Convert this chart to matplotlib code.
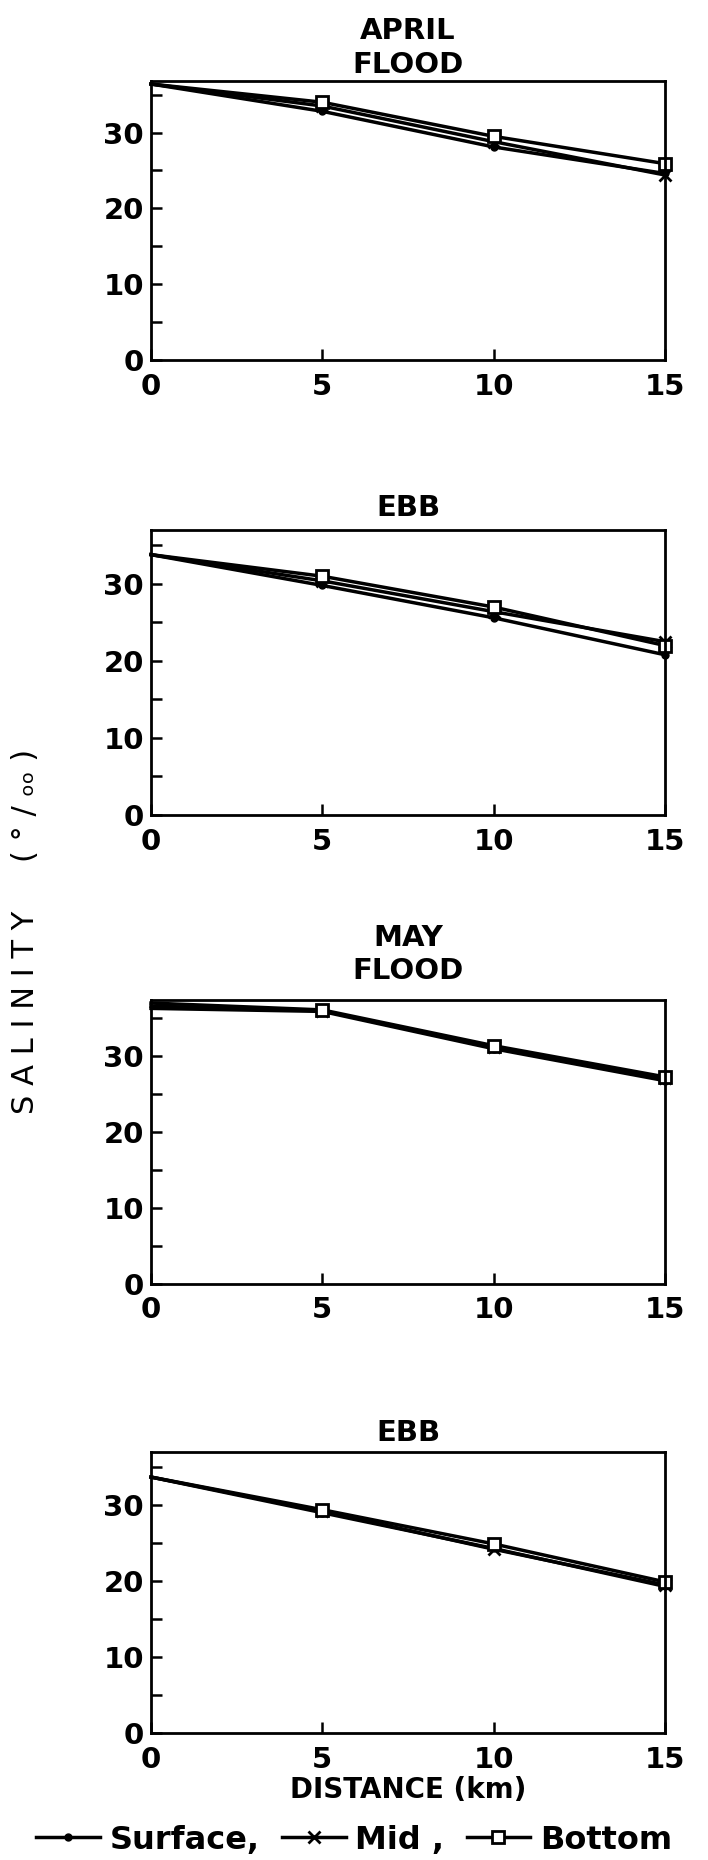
import matplotlib
matplotlib.use("Agg")
import matplotlib.pyplot as plt
from matplotlib.lines import Line2D

# distance along the estuary (km)
distance = [0, 5, 10, 15]

panel_titles = ["APRIL\nFLOOD", "EBB", "MAY\nFLOOD", "EBB"]

# salinity (per mille)
apr_flood_surface = [36.4, 32.8, 28.1, 24.6]
apr_flood_mid = [36.4, 33.5, 28.8, 24.4]
apr_flood_bottom = [36.4, 34.0, 29.5, 25.9]

apr_ebb_surface = [33.8, 29.8, 25.6, 20.8]
apr_ebb_mid = [33.8, 30.4, 26.4, 22.5]
apr_ebb_bottom = [33.8, 31.0, 27.0, 22.0]

may_flood_surface = [36.2, 35.8, 30.9, 26.7]
may_flood_mid = [36.5, 35.9, 31.1, 27.0]
may_flood_bottom = [36.9, 36.0, 31.3, 27.2]

may_ebb_surface = [33.7, 29.0, 24.3, 19.3]
may_ebb_mid = [33.7, 29.2, 24.2, 19.5]
may_ebb_bottom = [33.7, 29.4, 24.9, 19.9]

panels = [
    (apr_flood_surface, apr_flood_mid, apr_flood_bottom),
    (apr_ebb_surface, apr_ebb_mid, apr_ebb_bottom),
    (may_flood_surface, may_flood_mid, may_flood_bottom),
    (may_ebb_surface, may_ebb_mid, may_ebb_bottom),
]

# layout (figure pixels -> fractions)
W, H = 708, 1860
rects = [(81, 360), (530, 815), (1000, 1284), (1452, 1733)]
ytops = [36.8, 37.0, 37.3, 37.0]
title_pads = [6, 10, 15, 8]

plt.rcParams["font.family"] = ["DejaVu Sans"]
plt.rcParams["font.weight"] = "bold"

LW = 2.5
styles = [
    dict(marker="o", markersize=5, markerfacecolor="black"),
    dict(marker="x", markersize=8, markeredgewidth=2),
    dict(marker="s", markersize=8, markerfacecolor="white", markeredgewidth=2),
]

fig = plt.figure(figsize=(W / 100, H / 100), dpi=100)

for i, (series, (top, bot)) in enumerate(zip(panels, rects)):
    ax = fig.add_axes([151 / W, 1 - bot / H, 514 / W, (bot - top) / H])
    for vals, st in zip(series, styles):
        ax.plot(distance, vals, color="black", lw=LW, markevery=[1, 2, 3],
                markeredgecolor="black", clip_on=False, **st)
    ax.set_xlim(0, 15)
    ax.set_ylim(0, ytops[i])
    ax.set_xticks([0, 5, 10, 15])
    ax.set_yticks([0, 10, 20, 30])
    ax.set_yticks([5, 15, 25, 35], minor=True)
    ax.tick_params(axis="both", which="both", direction="in", width=1.8,
                   length=8, labelsize=21, top=False, right=False)
    ax.tick_params(axis="x", pad=9)
    ax.tick_params(axis="y", pad=5)
    for sp in ax.spines.values():
        sp.set_linewidth(2.0)
    ax.set_title(panel_titles[i], fontsize=21, fontweight="bold",
                 pad=title_pads[i], linespacing=1.25)
    if i == 3:
        ax.set_xlabel("DISTANCE (km)", fontsize=20, fontweight="bold", labelpad=2)

fig.text(26 / W, 1 - 931 / H, "S A L I N I T Y     ( ° / ₒₒ )", rotation=90,
         ha="center", va="center", fontsize=22, fontweight="normal")

handles = [Line2D([], [], color="black", lw=LW, markeredgecolor="black", **st)
           for st in styles]
fig.legend(handles, ["Surface,", "Mid ,", "Bottom"], loc="center",
           bbox_to_anchor=(0.5, 1 - 1840 / H), ncol=3, frameon=False,
           handlelength=2.0, handletextpad=0.3, columnspacing=0.7,
           borderpad=0, prop={"size": 23, "weight": "bold"})

fig.savefig("out.png", dpi=100)
